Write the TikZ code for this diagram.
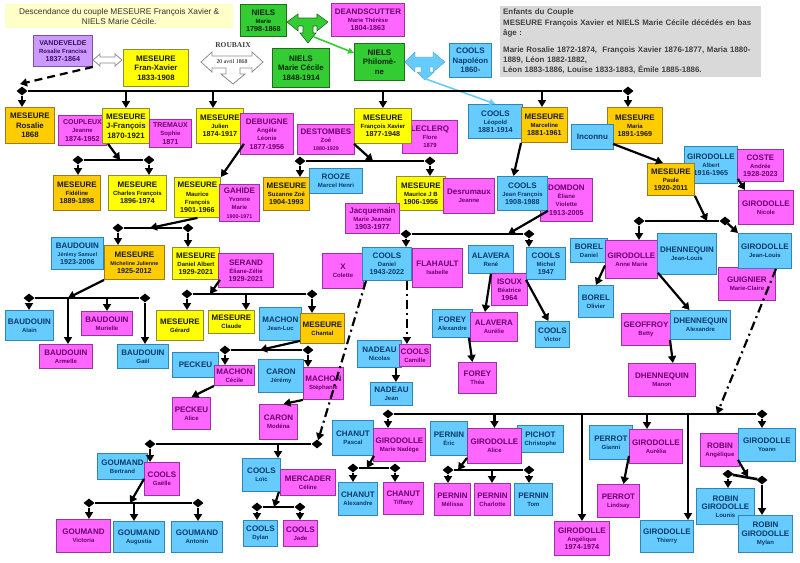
\documentclass[tikz,border=0pt]{standalone}
\usepackage{fontspec}
\setmainfont{Liberation Sans}
\newfontfamily\romfont{Liberation Serif}
\usetikzlibrary{arrows.meta,shapes.geometric}

\definecolor{fJaune}{HTML}{FFFF00}
\definecolor{dJaune}{HTML}{8C8C3C}
\definecolor{fOr}{HTML}{FFCC00}
\definecolor{dOr}{HTML}{A07820}
\definecolor{fRose}{HTML}{FF66FF}
\definecolor{dRose}{HTML}{9933A0}
\definecolor{fBleu}{HTML}{66CCFF}
\definecolor{dBleu}{HTML}{2F86B4}
\definecolor{fVert}{HTML}{33CC33}
\definecolor{dVert}{HTML}{1E6E1E}
\definecolor{fLilas}{HTML}{CC99FF}
\definecolor{dLilas}{HTML}{7A52A8}
\definecolor{tRose}{HTML}{6A006A}
\definecolor{tBleu}{HTML}{0A3A6A}
\definecolor{tNoir}{HTML}{1A1A1A}
\definecolor{tVert}{HTML}{0A250A}
\definecolor{tLilas}{HTML}{3A1060}
\definecolor{fTitre}{HTML}{FFFFC8}
\definecolor{fNote}{HTML}{D9D9D9}
\definecolor{tNote}{HTML}{404040}

\newcommand{\pnom}[1]{{\fontsize{8}{9}\selectfont #1}}
\newcommand{\pnoms}[1]{{\fontsize{7}{8}\selectfont #1}}
\newcommand{\pdate}[1]{{\fontsize{7.2}{8}\selectfont #1}}
\newcommand{\pmini}[1]{{\fontsize{5.4}{6}\selectfont #1}}

\begin{document}
\begin{tikzpicture}[
        x=1pt, y=-1pt,
        pers/.style={
                draw,
                line width=0.9pt,
                inner sep=1pt,
                align=center,
                font=\bfseries\fontsize{6}{8.2}\selectfont
            },
        big/.style={font=\bfseries\fontsize{7.8}{9.6}\selectfont},
        pb/.style 2 args={anchor=north west, minimum width=#1pt, minimum height=#2pt},
        yel/.style={pers, fill=fJaune, draw=dJaune, text=tNoir},
        ora/.style={pers, fill=fOr, draw=dOr, text=tNoir},
        mag/.style={pers, fill=fRose, draw=dRose, text=tRose},
        blu/.style={pers, fill=fBleu, draw=dBleu, text=tBleu},
        grn/.style={pers, fill=fVert, draw=dVert, text=tVert},
        lil/.style={pers, fill=fLilas, draw=dLilas, text=tLilas},
        arr/.style={line width=2.2pt, -{Triangle[length=7pt, width=8pt]}},
        genbar/.style={line width=2.6pt},
        dia/.style={diamond, fill=black, inner sep=0pt, minimum width=11pt, minimum height=9pt},
        dashdot/.style={arr, dash pattern=on 9pt off 4pt on 2pt off 4pt},
        dashlong/.style={arr, dash pattern=on 8pt off 5pt},
        hollow/.style={draw=black!45, fill=white, line width=0.8pt}
    ]

    \fill[white] (0,0) rectangle (800,562);
    \useasboundingbox (0,0) rectangle (800,562);

    % En-tete
    \node[pb={228}{24}, fill=fTitre, align=center, text=black!80,
        font=\fontsize{8.3}{10}\selectfont] (titre) at (5,4)
    {Descendance du couple MESEURE François Xavier \&\\NIELS Marie Cécile.};
    \node[anchor=north west, fill=fNote, text=tNote, text width=255pt, minimum height=71pt,
        inner sep=3pt, align=left, font=\bfseries\fontsize{7.9}{10.2}\selectfont] (enfants) at (500,6)
    {Enfants du Couple\\MESEURE François Xavier et NIELS Marie Cécile décédés en bas\\âge :\\[7pt]Marie Rosalie 1872-1874,\ \ François Xavier 1876-1877, Maria 1880-\\1889, Léon 1882-1882,\\Léon 1883-1886, Louise 1833-1883, Émile 1885-1886.};

    % Ancetres
    \node[lil, pb={59}{31}] (vande) at (33,35) {\pnoms{VANDEVELDE}\\Rosalie Francisa\\\pdate{1837-1864}};
    \node[yel, big, pb={65}{37}] (fxav) at (123,49) {\pnom{MESEURE}\\Fran-Xavier\\1833-1908};
    \node[grn, pb={46}{32}] (nielsM) at (240,4) {\pnom{NIELS}\\Marie\\\pdate{1798-1868}};
    \node[mag, pb={73}{33}] (deand) at (331,3) {\pnom{DEANDSCUTTER}\\Marie Thérèse\\\pdate{1804-1863}};
    \node[grn, big, pb={57}{39}] (nielsMC) at (272,48) {\pnom{NIELS}\\Marie Cécile\\1848-1914};
    \node[grn, big, pb={50}{37}] (nielsP) at (354,43) {\pnom{NIELS}\\Philomè-\\ne};
    \node[blu, big, pb={42}{34}] (napol) at (449,43) {\pnom{COOLS}\\Napoléon\\1860-};

    % Enfants
    \node[ora, big, pb={49}{36}] (rosalie) at (5,107) {\pnom{MESEURE}\\Rosalie\\1868};
    \node[mag, pb={48}{30}] (coupl) at (58,115) {\pnoms{COUPLEUX}\\Jeanne\\\pdate{1874-1952}};
    \node[yel, big, pb={47}{35}] (jfran) at (102,108) {\pnom{MESEURE}\\J-François\\1870-1921};
    \node[mag, pb={42}{28}] (trem) at (149,119) {\pnoms{TREMAUX}\\Sophie\\\pdate{1871}};
    \node[yel, pb={47}{35}] (julien) at (196,108) {\pnom{MESEURE}\\Julien\\\pdate{1874-1917}};
    \node[mag, pb={53}{41}] (debui) at (240,113) {\pnom{DEBUIGNE}\\Angèle\\Léonie\\\pdate{1877-1956}};
    \node[mag, pb={57}{30}] (destom) at (297,124) {\pnom{DESTOMBES}\\Zoé\\\pmini{1880-1929}};
    \node[mag, pb={55}{33}] (leclerq) at (402,120) {\pnom{LECLERQ}\\Flore\\1879};
    \node[yel, pb={57}{35}] (fxav2) at (354,108) {\pnom{MESEURE}\\François Xavier\\\pdate{1877-1948}};
    \node[blu, pb={54}{34}] (leopold) at (468,104) {\pnom{COOLS}\\Léopold\\\pdate{1881-1914}};
    \node[ora, pb={46}{35}] (marcel) at (521,107) {\pnom{MESEURE}\\Marceline\\\pdate{1881-1961}};
    \node[ora, pb={55}{36}] (maria) at (607,107) {\pnom{MESEURE}\\Maria\\\pdate{1891-1969}};
    \node[blu, pb={42}{25}] (inconnu) at (571,124) {\pnom{Inconnu}};
    \node[blu, pb={53}{37}] (albert) at (684,146) {\pnom{GIRODOLLE}\\Albert\\\pdate{1916-1965}};
    \node[mag, pb={46}{32}] (coste) at (737,149) {\pnom{COSTE}\\Andrée\\\pdate{1928-2023}};
    \node[ora, pb={47}{32}] (paule) at (647,163) {\pnom{MESEURE}\\Paule\\\pdate{1920-2011}};
    \node[mag, pb={55}{34}] (nicole) at (738,190) {\pnom{GIRODOLLE}\\Nicole};

    % Petits-enfants
    \node[ora, pb={47}{35}] (fideline) at (53,175) {\pnom{MESEURE}\\Fidéline\\\pdate{1889-1898}};
    \node[yel, pb={58}{35}] (charles) at (108,175) {\pnom{MESEURE}\\Charles François\\\pdate{1896-1974}};
    \node[yel, pb={46}{40}] (mauriceF) at (174,177) {\pnom{MESEURE}\\Maurice\\François\\\pdate{1901-1966}};
    \node[mag, pb={40}{37}] (gahide) at (219,184) {\pnom{GAHIDE}\\Yvonne\\Marie\\\pmini{1900-1971}};
    \node[ora, pb={46}{33}] (suzanne) at (263,177) {\pnom{MESEURE}\\Suzanne Zoé\\\pdate{1904-1993}};
    \node[blu, pb={53}{25}] (rooze) at (309,168) {\pnom{ROOZE}\\Marcel Henri};
    \node[yel, pb={49}{34}] (mauriceJB) at (396,176) {\pnom{MESEURE}\\Maurice J B\\\pdate{1906-1956}};
    \node[mag, pb={51}{35}] (desru) at (443,178) {\pnom{Desrumaux}\\Jeanne};
    \node[mag, pb={54}{30}] (jacq) at (345,203) {\pnom{Jacquemain}\\Marie Jeanne\\\pdate{1903-1977}};
    \node[mag, pb={52}{43}] (domdon) at (540,178) {\pnom{DOMDON}\\Éliane\\Violette\\\pdate{1913-2005}};
    \node[blu, pb={50}{34}] (jfcools) at (497,176) {\pnom{COOLS}\\Jean François\\\pdate{1908-1988}};

    \node[blu, pb={52}{32}] (jeremyS) at (51,237) {\pnom{BAUDOUIN}\\\pmini{Jérémy Samuel}\\\pdate{1923-2006}};
    \node[ora, pb={60}{34}] (micheline) at (104,245) {\pnom{MESEURE}\\\pmini{Micheline Julienne}\\\pdate{1925-2012}};
    \node[yel, pb={47}{32}] (danielA) at (172,247) {\pnom{MESEURE}\\Daniel Albert\\\pdate{1929-2021}};
    \node[mag, pb={55}{34}] (serand) at (218,253) {\pnom{SERAND}\\Éliane-Zélie\\\pdate{1929-2021}};
    \node[mag, pb={41}{35}] (colette) at (322,253) {\pnom{X}\\Colette};
    \node[blu, pb={49}{33}] (danielC) at (362,247) {\pnom{COOLS}\\Daniel\\\pdate{1943-2022}};
    \node[mag, pb={50}{39}] (flahault) at (412,248) {\pnom{FLAHAULT}\\Isabelle};
    \node[blu, pb={45}{28}] (rene) at (468,245) {\pnom{ALAVERA}\\René};
    \node[mag, pb={36}{32}] (isoux) at (491,273) {\pnom{ISOUX}\\Béatrice\\\pdate{1964}};
    \node[blu, pb={39}{32}] (michel) at (526,247) {\pnom{COOLS}\\Michel\\\pdate{1947}};
    \node[blu, pb={37}{24}] (borelD) at (570,238) {\pnom{BOREL}\\Daniel};
    \node[mag, pb={52}{38}] (anneM) at (605,240) {\pnom{GIRODOLLE}\\Anne Marie};
    \node[blu, pb={59}{41}] (dhenJL) at (657,233) {\pnom{DHENNEQUIN}\\Jean-Louis};
    \node[mag, pb={57}{33}] (guign) at (718,267) {\pnom{GUIGNIER}\\Marie-Claire};
    \node[blu, pb={53}{35}] (giroJL) at (738,233) {\pnom{GIRODOLLE}\\Jean-Louis};

    % Generations suivantes
    \node[blu, pb={48}{30}] (alain) at (5,310) {\pnom{BAUDOUIN}\\Alain};
    \node[mag, pb={51}{24}] (murielle) at (81,311) {\pnom{BAUDOUIN}\\Murielle};
    \node[mag, pb={53}{24}] (armelle) at (39,344) {\pnom{BAUDOUIN}\\Armelle};
    \node[blu, pb={51}{24}] (gael) at (117,344) {\pnom{BAUDOUIN}\\Gaël};
    \node[yel, pb={47}{30}] (gerard) at (156,310) {\pnom{MESEURE}\\Gérard};
    \node[yel, pb={46}{23}] (claude) at (208,310) {\pnom{MESEURE}\\Claude};
    \node[blu, pb={42}{33}] (jeanluc) at (259,307) {\pnom{MACHON}\\Jean-Luc};
    \node[ora, pb={44}{30}] (chantal) at (300,313) {\pnom{MESEURE}\\Chantal};
    \node[blu, pb={44}{27}] (nicolas) at (357,340) {\pnom{NADEAU}\\Nicolas};
    \node[mag, pb={31}{22}] (camille) at (399,344) {\pnom{COOLS}\\Camille};
    \node[blu, pb={40}{28}] (foreyA) at (432,309) {\pnom{FOREY}\\Alexandre};
    \node[mag, pb={47}{29}] (aurelie) at (470,312) {\pnom{ALAVERA}\\Aurélie};
    \node[blu, pb={34}{26}] (victor) at (535,321) {\pnom{COOLS}\\Victor};
    \node[blu, pb={35}{32}] (borelO) at (578,285) {\pnom{BOREL}\\Olivier};
    \node[mag, pb={49}{32}] (geoff) at (621,313) {\pnom{GEOFFROY}\\Betty};
    \node[blu, pb={60}{29}] (dhenA) at (670,310) {\pnom{DHENNEQUIN}\\Alexandre};
    \node[mag, pb={67}{33}] (manon) at (628,363) {\pnom{DHENNEQUIN}\\Manon};

    \node[blu, pb={46}{25}] (peckeu) at (172,352) {\pnom{PECKEU}};
    \node[mag, pb={40}{20}] (cecile) at (214,365) {\pnom{MACHON}\\Cécile};
    \node[blu, pb={45}{33}] (jeremyC) at (258,359) {\pnom{CARON}\\Jérémy};
    \node[mag, pb={40}{32}] (stephanie) at (303,367) {\pnom{MACHON}\\Stéphanie};
    \node[blu, pb={42}{23}] (jeanN) at (370,382) {\pnom{NADEAU}\\Jean};
    \node[mag, pb={38}{31}] (thea) at (458,362) {\pnom{FOREY}\\Théa};
    \node[mag, pb={38}{32}] (aliceP) at (172,397) {\pnom{PECKEU}\\Alice};
    \node[mag, pb={38}{35}] (modena) at (259,404) {\pnom{CARON}\\Modéna};

    \node[blu, pb={50}{26}] (bertrand) at (97,453) {\pnom{GOUMAND}\\Bertrand};
    \node[mag, pb={35}{33}] (gaelle) at (144,462) {\pnom{COOLS}\\Gaëlle};
    \node[blu, pb={38}{33}] (loic) at (242,458) {\pnom{COOLS}\\Loïc};
    \node[mag, pb={55}{26}] (mercader) at (280,469) {\pnom{MERCADER}\\Céline};
    \node[blu, pb={41}{35}] (pascal) at (332,420) {\pnom{CHANUT}\\Pascal};
    \node[mag, pb={52}{33}] (nadege) at (373,428) {\pnom{GIRODOLLE}\\Marie Nadège};
    \node[blu, pb={37}{34}] (eric) at (430,421) {\pnom{PERNIN}\\Éric};
    \node[blu, pb={46}{27}] (pichot) at (517,425) {\pnom{PICHOT}\\Christophe};
    \node[mag, pb={54}{35}] (aliceG) at (467,428) {\pnom{GIRODOLLE}\\Alice};
    \node[blu, pb={43}{34}] (gianni) at (589,425) {\pnom{PERROT}\\Gianni};
    \node[mag, pb={53}{34}] (aurelia) at (629,429) {\pnom{GIRODOLLE}\\Aurélia};
    \node[mag, pb={39}{33}] (robinA) at (700,433) {\pnom{ROBIN}\\Angélique};
    \node[blu, pb={57}{33}] (yoann) at (738,428) {\pnom{GIRODOLLE}\\Yoann};

    \node[blu, pb={39}{33}] (alex) at (338,482) {\pnom{CHANUT}\\Alexandre};
    \node[mag, pb={40}{32}] (tiffany) at (383,482) {\pnom{CHANUT}\\Tiffany};
    \node[mag, pb={36}{32}] (melissa) at (434,483) {\pnom{PERNIN}\\Mélissa};
    \node[mag, pb={36}{32}] (charlotte) at (474,483) {\pnom{PERNIN}\\Charlotte};
    \node[blu, pb={38}{32}] (tom) at (514,483) {\pnom{PERNIN}\\Tom};
    \node[mag, pb={42}{33}] (lindsay) at (597,484) {\pnom{PERROT}\\Lindsay};
    \node[blu, pb={58}{36}] (lounis) at (696,488) {\pnom{ROBIN}\\\pnom{GIRODOLLE}\\Lounis};
    \node[blu, pb={54}{37}] (mylan) at (738,515) {\pnom{ROBIN}\\\pnom{GIRODOLLE}\\Mylan};
    \node[mag, pb={54}{33}] (victoria) at (56,519) {\pnom{GOUMAND}\\Victoria};
    \node[blu, pb={51}{31}] (augustia) at (113,521) {\pnom{GOUMAND}\\Augustia};
    \node[blu, pb={51}{31}] (antonin) at (171,521) {\pnom{GOUMAND}\\Antonin};
    \node[blu, pb={34}{26}] (dylan) at (243,520) {\pnom{COOLS}\\Dylan};
    \node[mag, pb={34}{26}] (jade) at (283,520) {\pnom{COOLS}\\Jade};
    \node[mag, pb={55}{34}] (angeliqueG) at (554,521) {\pnom{GIRODOLLE}\\Angélique\\\pdate{1974-1974}};
    \node[blu, pb={53}{32}] (thierry) at (640,520) {\pnom{GIRODOLLE}\\Thierry};

    % Mariages
    \draw[hollow] (93,60) -- (100,54) -- (100,57) -- (115,57) -- (115,54) -- (122,60)
        -- (115,66) -- (115,63) -- (100,63) -- (100,66) -- cycle;
    \draw[dashlong] (vande.south east) -- (20,84);
    \node[text=black!75, font=\romfont\bfseries\fontsize{7.5}{8}\selectfont] (roubaix) at (233,45) {ROUBAIX};
    \draw[hollow] (201,62) -- (212,52) -- (212,56) -- (252,56) -- (252,52) -- (263,62) -- (252,72)
        -- (252,68) -- (240,68) -- (240,74) -- (245,74) -- (233,84) -- (221,74) -- (226,74)
        -- (226,68) -- (212,68) -- (212,72) -- cycle;
    \node[font=\romfont\fontsize{5.8}{6}\selectfont, inner sep=0pt] (mariage) at (232,62) {20 avril 1868};
    \draw[fill=fVert, draw=dVert, line width=0.6pt] (287,22) -- (298,14) -- (298,18) -- (317,18) -- (317,14)
        -- (328,22) -- (317,31) -- (317,26) -- (313,26) -- (313,33) -- (316,33) -- (308,43)
        -- (300,33) -- (303,33) -- (303,26) -- (298,26) -- (298,31) -- cycle;
    \coordinate (tVert) at (314,37);
    \draw[fVert, line width=1.6pt, -{Triangle[length=6pt, width=6pt]}] (tVert) -- ([yshift=9pt]nielsP.west);
    \draw[fill=fBleu, draw=fBleu!80!black, line width=0.4pt] (405,62) -- (415,52) -- (415,57) -- (433,57)
        -- (433,52) -- (445,62) -- (433,72) -- (433,67) -- (430,67) -- (430,72) -- (434,72)
        -- (425,80) -- (417,72) -- (421,72) -- (421,67) -- (415,67) -- (415,72) -- cycle;
    \coordinate (tBleu) at (423,78);
    \draw[fBleu, line width=1.6pt, -{Triangle[length=6pt, width=6pt]}] (tBleu) -- (leopold.north);

    % Generation 1
    \node[dia] (g1a) at (22,91) {};
    \node[dia] (g1b) at (628,91) {};
    \draw[genbar] (g1a) -- (g1b);
    \coordinate (g1c) at (213,91);
    \coordinate (g1d) at (542,91);
    \draw[arr] (g1a) -- (g1a |- rosalie.north);
    \draw[arr] (jfran.north |- g1a) -- (jfran.north);
    \draw[arr] (g1c) -- (g1c |- julien.north);
    \draw[arr] (fxav2.north |- g1a) -- (fxav2.north);
    \draw[arr] (g1d) -- (g1d |- marcel.north);
    \draw[arr] (g1b) -- (g1b |- maria.north);

    % Generation 2
    \node[dia] (g2a) at (78,160) {};
    \node[dia] (g2b) at (149,160) {};
    \draw[genbar] (g2a) -- (g2b);
    \coordinate (g2in) at (120,160);
    \draw[arr] ([xshift=6pt]jfran.south west) -- (g2in);
    \draw[arr] (g2a) -- (g2a |- fideline.north);
    \draw[arr] (g2b) -- (g2b |- charles.north);
    \draw[arr] (julien.south east) -- (mauriceF.north east);

    \node[dia] (g2c) at (300,161) {};
    \node[dia] (g2d) at (430,161) {};
    \draw[genbar] (g2c) -- (g2d);
    \coordinate (g2in2) at (373,161);
    \draw[arr] (fxav2.south west) -- (g2in2);
    \draw[arr] (g2c) -- (g2c |- suzanne.north);
    \draw[arr] (g2d) -- (g2d |- mauriceJB.north);

    \draw[arr] (marcel.south west) -- ([xshift=-9pt]jfcools.north);
    \draw[arr] ([xshift=6pt]maria.south west) -- ([xshift=-8pt]paule.north);
    \draw[arr] ([yshift=5pt]albert.south east) -- ([xshift=7pt]nicole.north west);

    % Generation 3
    \node[dia] (g3a) at (118,228) {};
    \node[dia] (g3b) at (188,228) {};
    \draw[genbar] (g3a) -- (g3b);
    \coordinate (g3in) at (150,228);
    \draw[arr] (mauriceF.south) -- (g3in);
    \draw[arr] (g3a) -- (g3a |- micheline.north);
    \draw[arr] (g3b) -- (g3b |- danielA.north);

    \node[dia] (g3e) at (639,221) {};
    \node[dia] (g3f) at (725,221) {};
    \draw[genbar] (g3e) -- (g3f);
    \coordinate (g3in2) at (707,221);
    \draw[arr] (paule.south east) -- (g3in2);
    \draw[arr] (g3e) -- (g3e |- anneM.north);
    \draw[arr] (g3f) -- (giroJL.north west);

    \node[dia] (g4g) at (406,234) {};
    \node[dia] (g4h) at (529,234) {};
    \draw[genbar] (g4g) -- (g4h);
    \coordinate (g4in3) at (508,234);
    \draw[arr] (jfcools.south east) -- (g4in3);
    \draw[arr] (g4g) -- (g4g |- danielC.north);
    \draw[arr] (g4h) -- (g4h |- michel.north);

    % Generation 4
    \node[dia] (g4a) at (29,298) {};
    \node[dia] (g4b) at (145,298) {};
    \draw[genbar] (g4a) -- (g4b);
    \coordinate (g4in) at (68,298);
    \coordinate (g4c) at (107,298);
    \draw[arr] (micheline.south west) -- (g4in);
    \draw[arr] (g4a) -- (g4a |- alain.north);
    \draw[arr] (g4in) -- (g4in |- armelle.north);
    \draw[arr] (g4c) -- (g4c |- murielle.north);
    \draw[arr] (g4b) -- (g4b |- gael.north);

    \node[dia] (g4d) at (187,294) {};
    \node[dia] (g4e) at (312,294) {};
    \draw[genbar] (g4d) -- (g4e);
    \coordinate (g4in2) at (210,294);
    \coordinate (g4f) at (246,294);
    \draw[arr] (danielA.south east) -- (g4in2);
    \draw[arr] (g4d) -- (g4d |- gerard.north);
    \draw[arr] (g4f) -- (g4f |- claude.north);
    \draw[arr] (g4e) -- (g4e |- chantal.north);

    \draw[arr] (rene.south) -- ([xshift=-9pt]aurelie.north);
    \draw[arr] (michel.south west) -- ([xshift=-4pt]victor.north);
    \draw[arr] ([xshift=-4pt]foreyA.south east) -- ([xshift=-5pt]thea.north);
    \draw[arr] ([yshift=6pt]anneM.south east) -- ([xshift=-11pt]dhenA.north);
    \draw[arr] ([yshift=-6pt]anneM.west) -- (borelO.north);
    \draw[arr] (dhenA.south west) -- ([xshift=11pt]manon.north);

    % Generation 5
    \node[dia] (g5a) at (225,350) {};
    \node[dia] (g5b) at (308,350) {};
    \draw[genbar] (g5a) -- (g5b);
    \coordinate (g5in) at (260,350);
    \draw[arr] ([yshift=3pt]chantal.south west) -- (g5in);
    \draw[arr] (g5a) -- (g5a |- cecile.north);
    \draw[arr] (g5b) -- (g5b |- stephanie.north);
    \draw[arr] (cecile.south west) -- (aliceP.north);
    \draw[arr] (stephanie.south west) -- ([xshift=5pt]modena.north);
    \draw[dashdot] ([xshift=-5pt]danielC.south east) -- ([xshift=-5pt]danielC.south east |- camille.north);
    \draw[arr] ([xshift=-6pt]nicolas.south east) -- ([xshift=-6pt]nicolas.south east |- jeanN.north);

    % Generation 6
    \node[dia] (g6a) at (150,444) {};
    \node[dia] (g6b) at (317,444) {};
    \draw[genbar] (g6a) -- (g6b);
    \coordinate (g6c) at (278,444);
    \draw[dashdot] ([xshift=4pt]danielC.south west) -- (g6b);
    \draw[arr] (g6a) -- (g6a |- gaelle.north);
    \draw[arr] (g6c) -- (g6c |- loic.north);

    \node[dia] (g7a) at (388,414) {};
    \node[dia] (g7b) at (762,414) {};
    \draw[genbar] (g7a) -- (g7b);
    \coordinate (g7in) at (717,414);
    \coordinate (g7e) at (647,414);
    \coordinate (g7f) at (688,414);
    \draw[dashdot] ([xshift=11pt]giroJL.south) -- (g7in);
    \draw[arr] (g7a) -- (g7a |- nadege.north);
    \draw[arr] (aliceG.north |- g7a) -- (aliceG.north);
    \draw[arr] (angeliqueG.north |- g7a) -- (angeliqueG.north);
    \draw[arr] (g7e) -- (g7e |- aurelia.north);
    \draw[arr] (g7f) -- (g7f |- thierry.north);
    \draw[arr] (g7b) -- (g7b |- yoann.north);

    % Generation 7
    \node[dia] (g8a) at (353,468) {};
    \node[dia] (g8b) at (395,468) {};
    \draw[genbar] (g8a) -- (g8b);
    \coordinate (g8in) at (367,468);
    \draw[arr] (pascal.south east) -- (g8in);
    \draw[arr] (g8a) -- (g8a |- alex.north);
    \draw[arr] (g8b) -- (g8b |- tiffany.north);

    \node[dia] (g8c) at (448,470) {};
    \node[dia] (g8d) at (529,470) {};
    \draw[genbar] (g8c) -- (g8d);
    \coordinate (g8in2) at (458,470);
    \coordinate (g8e) at (492,470);
    \draw[arr] ([yshift=6pt]aliceG.south west) -- (g8in2);
    \draw[arr] (g8c) -- (g8c |- melissa.north);
    \draw[arr] (g8e) -- (g8e |- charlotte.north);
    \draw[arr] (g8d) -- (g8d |- tom.north);

    \draw[arr] ([yshift=8pt]aurelia.south west) -- ([xshift=5pt]lindsay.north);

    \node[dia] (g8f) at (728,474) {};
    \node[dia] (g8g) at (762,480) {};
    \draw[genbar] (g8f) -- (g8g);
    \coordinate (g8in3) at (748,477);
    \draw[arr] ([yshift=2pt]yoann.south west) -- (g8in3);
    \draw[arr] (g8f) -- (g8f |- lounis.north);
    \draw[arr] (g8g) -- (g8g |- mylan.north);

    \node[dia] (g9a) at (257,507) {};
    \node[dia] (g9b) at (300,507) {};
    \draw[genbar] (g9a) -- (g9b);
    \coordinate (g9in) at (274,507);
    \draw[arr] ([xshift=-2pt]loic.south east) -- (g9in);
    \draw[arr] (g9a) -- (g9a |- dylan.north);
    \draw[arr] (g9b) -- (g9b |- jade.north);

    \node[dia] (g10a) at (89,503) {};
    \node[dia] (g10b) at (198,503) {};
    \draw[genbar] (g10a) -- (g10b);
    \coordinate (g10in) at (130,503);
    \coordinate (g10c) at (134,503);
    \draw[arr] (gaelle.west) -- (g10in);
    \draw[arr] (g10a) -- (g10a |- victoria.north);
    \draw[arr] (g10c) -- (g10c |- augustia.north);
    \draw[arr] (g10b) -- (g10b |- antonin.north);

\end{tikzpicture}
\end{document}
